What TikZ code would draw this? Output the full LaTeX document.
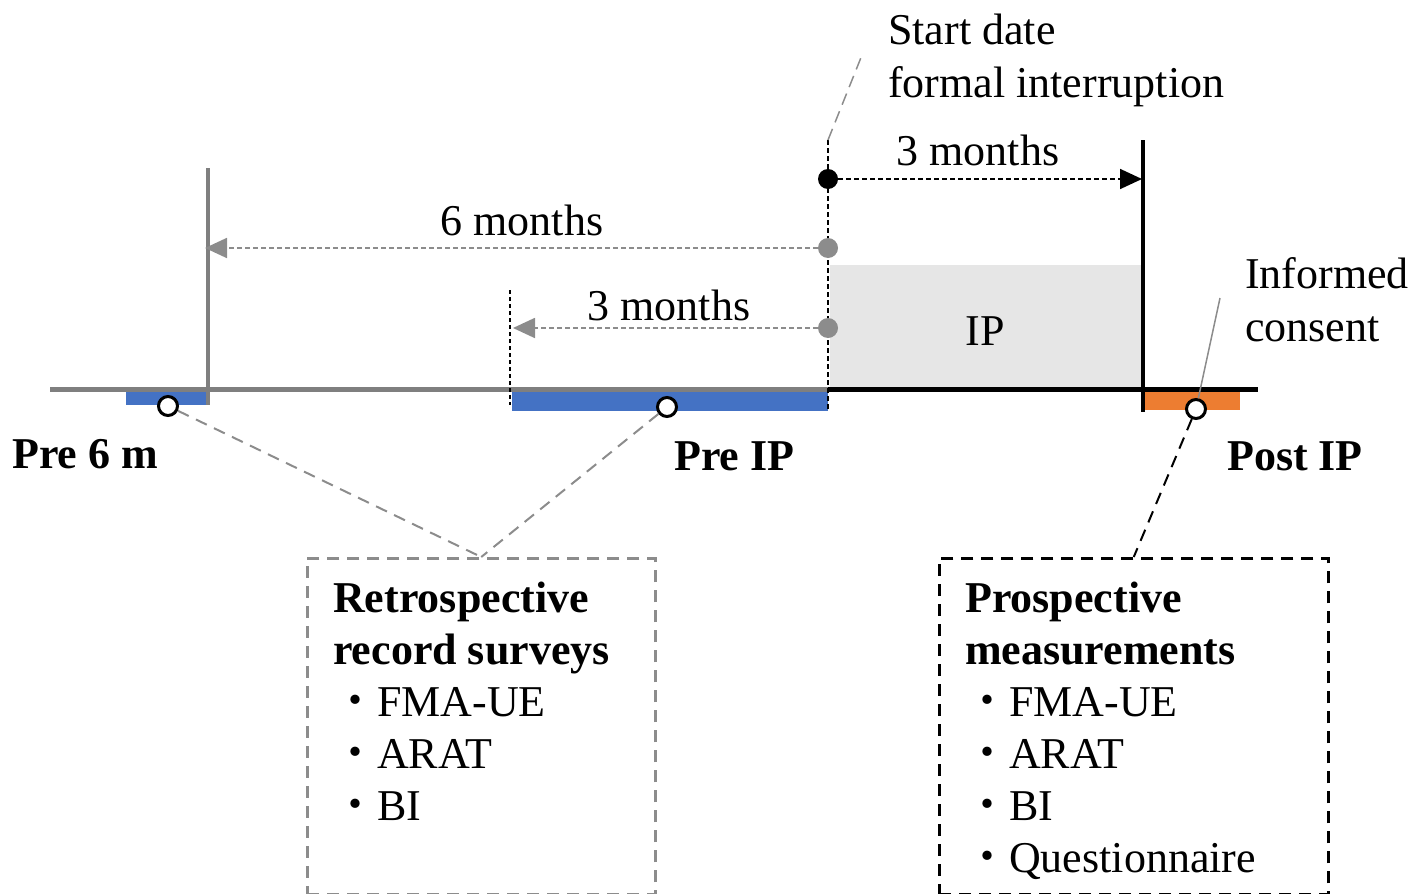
\documentclass[tikz,border=0pt]{standalone}
\usepackage{fontspec}
\setmainfont{Liberation Serif}
\newfontfamily\cjk{Noto Sans CJK JP}
\usetikzlibrary{arrows.meta}
\definecolor{axisgray}{HTML}{7F7F7F}
\definecolor{dashgray}{HTML}{8C8C8C}
\definecolor{ipfill}{HTML}{E6E6E6}
\definecolor{barblue}{HTML}{4472C4}
\definecolor{barorange}{HTML}{ED7D31}
\tikzset{
  lbl/.style={font=\fontsize{44}{52}\selectfont, inner sep=0pt},
  blbl/.style={font=\fontsize{44}{52}\selectfont\bfseries, inner sep=0pt},
  mark dot/.style={circle, inner sep=0pt, minimum size=20pt, draw=none},
  ring/.style={circle, inner sep=0pt, minimum size=19pt, draw=black, line width=3pt, fill=white},
  finedash/.style={line width=1.8pt, dash pattern=on 5pt off 3pt},
  boxdash/.style={line width=2.5pt, dash pattern=on 12pt off 8pt},
  tri/.style={-{Triangle[length=22pt,width=20pt]}},
  groupbox/.style={draw, boxdash, inner sep=0pt, anchor=north west}
}
\begin{document}
\begin{tikzpicture}[x=1pt,y=-1pt]
\useasboundingbox (0,0) rectangle (1428,894);

% intervention period
\fill[ipfill] (830,265) rectangle (1141,387);
\node[lbl, anchor=base] (ip) at (985,345) {IP};

% measurement windows
\fill[barblue] (126,391) rectangle (208,405);
\fill[barblue] (512,392) rectangle (828,411);
\fill[barorange] (1145,391) rectangle (1240,410);

% time axis
\draw[axisgray, line width=5pt] (50,389) -- (828,389);
\draw[black, line width=5pt] (828,389) -- (1258,389);
\draw[axisgray, line width=4pt] (208,168) -- (208,405);
\draw[black, line width=4pt] (1143,140) -- (1143,412);
\draw[black, line width=1.5pt, dash pattern=on 4pt off 3pt] (510,290) -- (510,405);
\draw[black, finedash] (828,140) -- (828,411);

% start date annotation
\coordinate (sd) at (828,140);
\coordinate (sdtop) at (862,55);
\draw[dashgray, line width=1.5pt, dash pattern=on 12pt off 7pt] (sd) -- (sdtop);
\node[lbl, anchor=base west] (start1) at (888,44) {Start date};
\node[lbl, anchor=base west] (start2) at (888,97) {formal interruption};

% interval arrows
\node[mark dot, fill=black] (d3) at (828,179) {};
\node[mark dot, fill=dashgray] (d6) at (828,248) {};
\node[mark dot, fill=dashgray] (dp) at (828,328) {};
\coordinate (t3) at (1142,179);
\coordinate (t6) at (205,248);
\coordinate (tp) at (513,328);
\draw[black, finedash, tri] (d3) -- (t3);
\draw[dashgray, finedash, tri] (d6) -- (t6);
\draw[dashgray, finedash, tri] (dp) -- (tp);
\node[lbl, anchor=base] (m3top) at (978,165) {3 months};
\node[lbl, anchor=base] (m6) at (522,235) {6 months};
\node[lbl, anchor=base] (m3) at (669,320) {3 months};

% assessment points
\node[ring] (c1) at (168,406) {};
\node[ring] (c2) at (667,407) {};
\node[ring] (c3) at (1196,409) {};

\node[blbl, anchor=base west] (pre6) at (12,468) {Pre 6 m};
\node[blbl, anchor=base west] (preip) at (674,470) {Pre IP};
\node[blbl, anchor=base west] (postip) at (1227,470) {Post IP};

% informed consent
\node[lbl, anchor=base west] (inf1) at (1245,288) {Informed};
\node[lbl, anchor=base west] (inf2) at (1245,341) {consent};
\coordinate (ic) at (1220,298);
\draw[dashgray, line width=1.5pt] (ic) -- (c3);

% outcome boxes
\node[groupbox, draw=dashgray, minimum width=348pt, minimum height=336pt] (retro) at (306,557) {};
\node[groupbox, draw=black, minimum width=389pt, minimum height=336pt] (prosp) at (938,557) {};

\draw[dashgray, line width=2pt, dash pattern=on 12pt off 8pt] (c1) -- (retro.north);
\draw[dashgray, line width=2pt, dash pattern=on 12pt off 8pt] (c2) -- (retro.north);
\draw[black, line width=2pt, dash pattern=on 12pt off 8pt] (c3) -- (prosp.north);

% retrospective items
\node[blbl, anchor=base west] (r1) at (333,612) {Retrospective};
\node[blbl, anchor=base west] (r2) at (333,664) {record surveys};
\node[lbl, anchor=base west] (r3) at (333,716) {{\cjk ・}FMA-UE};
\node[lbl, anchor=base west] (r4) at (333,768) {{\cjk ・}ARAT};
\node[lbl, anchor=base west] (r5) at (333,820) {{\cjk ・}BI};

% prospective items
\node[blbl, anchor=base west] (p1) at (965,612) {Prospective};
\node[blbl, anchor=base west] (p2) at (965,664) {measurements};
\node[lbl, anchor=base west] (p3) at (965,716) {{\cjk ・}FMA-UE};
\node[lbl, anchor=base west] (p4) at (965,768) {{\cjk ・}ARAT};
\node[lbl, anchor=base west] (p5) at (965,820) {{\cjk ・}BI};
\node[lbl, anchor=base west] (p6) at (965,872) {{\cjk ・}Questionnaire};
\end{tikzpicture}
\end{document}
